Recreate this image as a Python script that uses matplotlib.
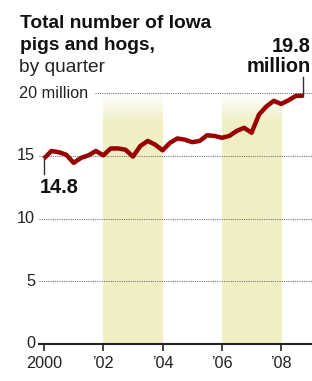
import numpy as np
import matplotlib
matplotlib.use('Agg')
import matplotlib.pyplot as plt
from matplotlib.transforms import blended_transform_factory

plt.rcParams['font.family'] = ['Liberation Sans', 'DejaVu Sans']

# quarterly totals, millions of pigs and hogs (2000 Q1 .. 2008 Q4)
quarters = [2000 + q * 0.25 for q in range(36)]
hogs = [14.8, 15.4, 15.3, 15.1, 14.45, 14.85, 15.05, 15.4,
        15.05, 15.6, 15.6, 15.5, 14.95, 15.8, 16.2, 15.9,
        15.45, 16.05, 16.4, 16.3, 16.1, 16.2, 16.65, 16.6,
        16.45, 16.6, 17.0, 17.25, 16.85, 18.3, 18.95, 19.4,
        19.15, 19.45, 19.8, 19.8]

year_ticks = [2000, 2002, 2004, 2006, 2008]
year_labels = ['2000', '\u201902', '\u201904', '\u201906', '\u201908']
grid_vals = [5, 10, 15, 20]
grid_labels = ['5', '10', '15', '20 million']
bands = [(2002, 2004), (2006, 2008)]

fig = plt.figure(figsize=(3.12, 3.81), dpi=100)
ax = fig.add_axes([39 / 312, 37 / 381, 273 / 312, 250.7 / 381])
x0, x1 = 2000 - 5 / 29.65, 2000 + 268 / 29.65

# shaded bands, fading out toward the top
band_rgb = np.array([240, 239, 196]) / 255
n = 200
alpha = np.clip((20 - np.linspace(0, 20, n)) / 2.3, 0, 1)
grad = np.zeros((n, 1, 4))
grad[:, 0, :3] = band_rgb
grad[:, 0, 3] = alpha
for a, b in bands:
    ax.imshow(grad, extent=[a, b, 0, 20], origin='lower', aspect='auto',
              zorder=0, interpolation='bilinear')
ax.set_xlim(x0, x1)
ax.set_ylim(0, 20)

# gridlines
for v in grid_vals:
    start = (95 - 39) / 273 if v == 20 else 0
    ax.axhline(v, xmin=start, xmax=1, color='#777777', lw=0.8,
               ls=(0, (1, 1)), zorder=1)

trans = blended_transform_factory(ax.transAxes, ax.transData)
for v, lab in zip(grid_vals + [0], grid_labels + ['0']):
    xpos = (88 - 39) / 273 if v == 20 else -4 / 273
    ax.text(xpos, v, lab, transform=trans, ha='right', va='center',
            fontsize=11.7, color='#222222')

# axis line and ticks
ax.axhline(0, color='#222222', lw=1.5, zorder=3, clip_on=False)
for sp in ax.spines.values():
    sp.set_visible(False)
ax.set_yticks([])
ax.set_xticks(year_ticks)
ax.set_xticklabels(year_labels, fontsize=11.7, color='#222222')
ax.tick_params(axis='x', length=5, width=1.2, color='#222222', pad=4)

# data line
ax.plot(quarters, hogs, color='#990000', lw=3.2, solid_joinstyle='round',
        solid_capstyle='butt', zorder=4, clip_on=False)

# callouts
ax.plot([quarters[0], quarters[0]], [hogs[0], 13.6], color='#333333',
        lw=1, zorder=3)
ax.text(quarters[0] - 0.15, 12.45, '14.8', fontsize=14.4, fontweight='bold',
        ha='left', va='center', color='#111111')
ax.plot([quarters[-1], quarters[-1]], [hogs[-1], 21.3], color='#333333',
        lw=1, zorder=3, clip_on=False)
fig.text(311 / 312, 1 - 52 / 381, '19.8', fontsize=14.4, fontweight='bold',
         ha='right', va='baseline', color='#111111')
fig.text(311 / 312, 1 - 72.5 / 381, 'million', fontsize=14.4,
         fontweight='bold', ha='right', va='baseline', color='#111111')

# title
fig.text(20 / 312, 1 - 28 / 381, 'Total number of Iowa', fontsize=13.8,
         fontweight='bold', va='baseline', color='#111111')
fig.text(20 / 312, 1 - 50 / 381, 'pigs and hogs,', fontsize=13.8,
         fontweight='bold', va='baseline', color='#111111')
fig.text(19 / 312, 1 - 71.5 / 381, 'by quarter', fontsize=13.8,
         va='baseline', color='#222222')

fig.savefig('out.png', dpi=100)
